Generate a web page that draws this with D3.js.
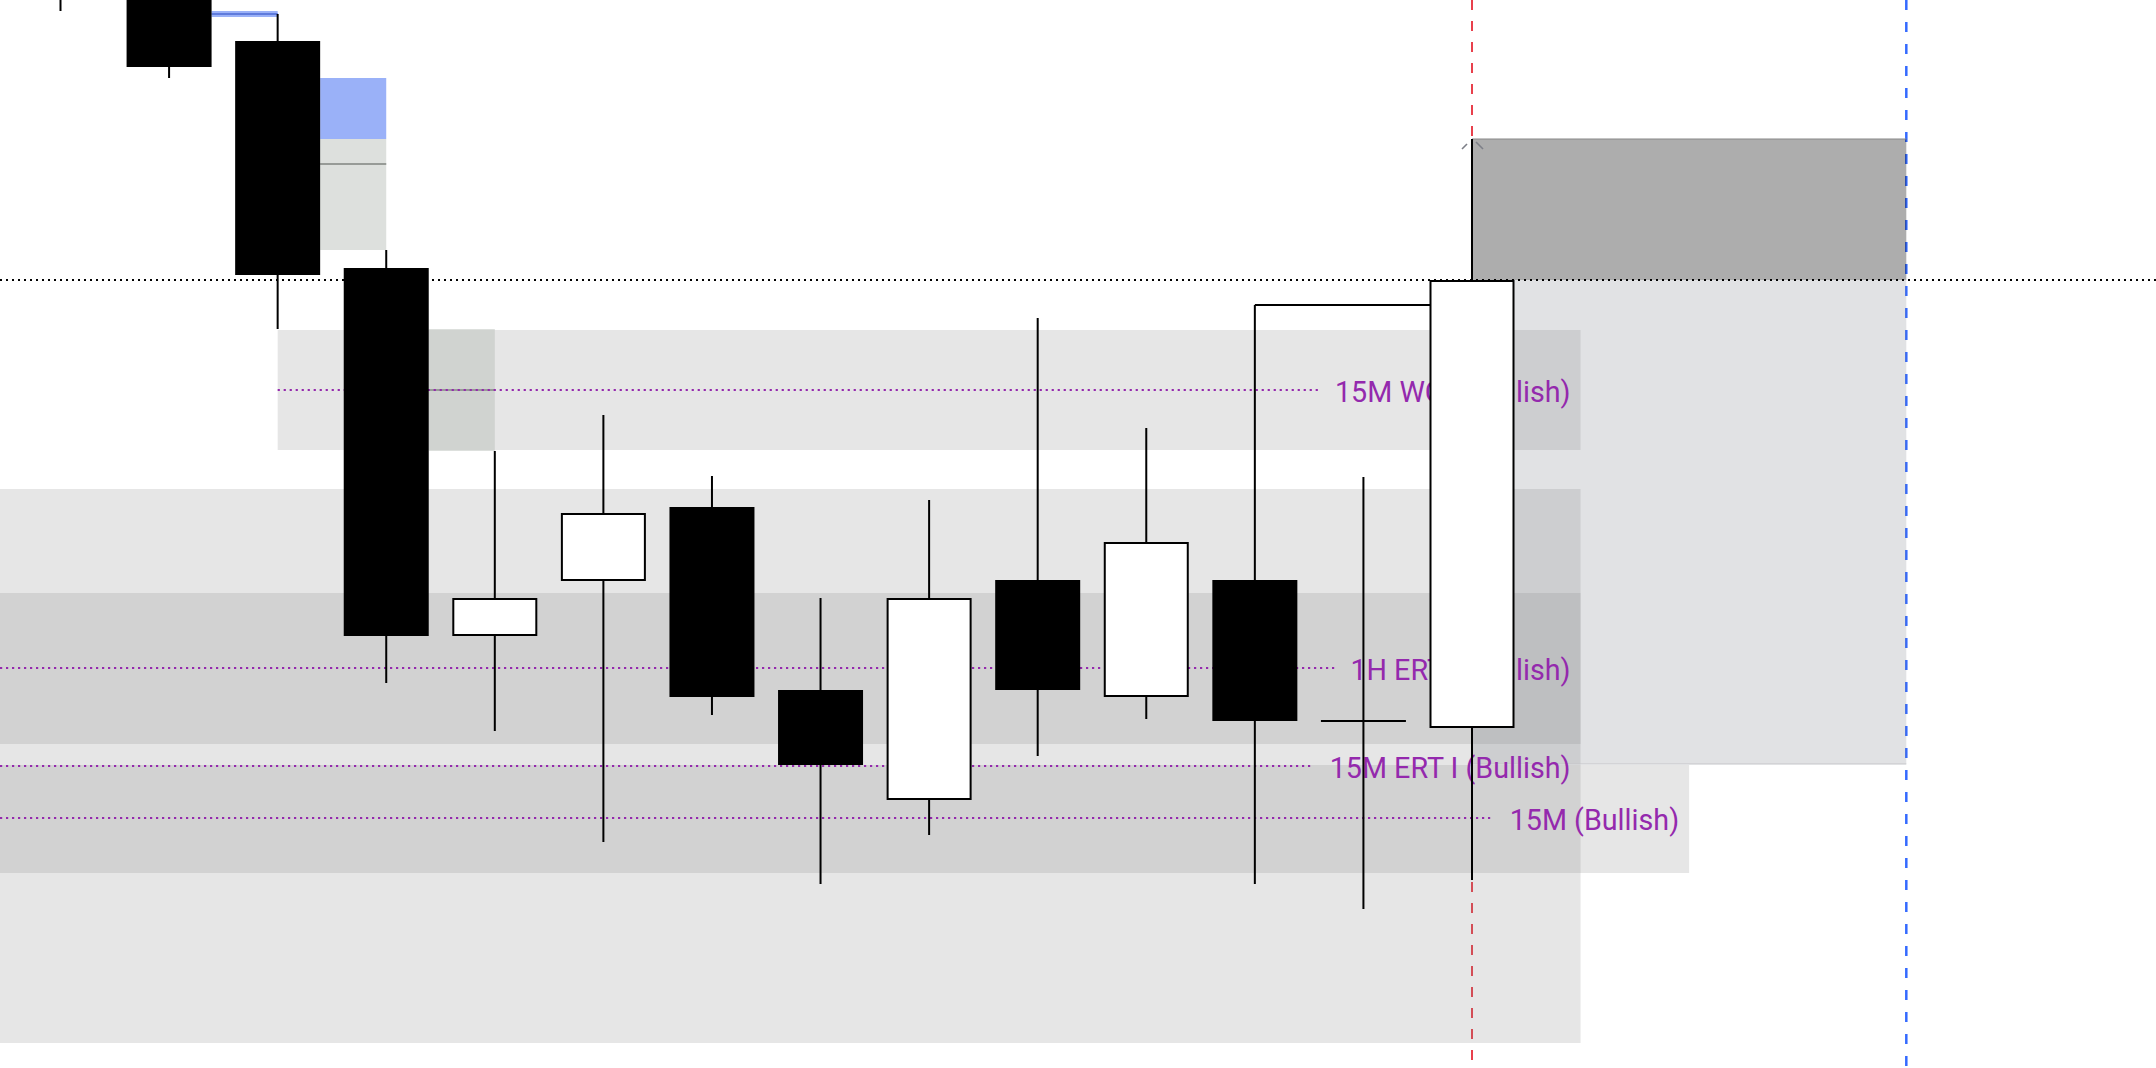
<!DOCTYPE html>
<html>
<head>
<meta charset="utf-8">
<script src="https://cdn.jsdelivr.net/npm/d3@7"></script>
<style>
html,body{margin:0;padding:0;background:#fff;overflow:hidden}
svg{display:block}
</style>
</head>
<body>
<svg id="chart" width="2156" height="1068"></svg>
<script>
// ---------- DATA ----------
const candleIndex = [0,1,2,3,4,5,6,7,8,9,10,11,12,13];
const opens  = [2466.0, 2463.5, 2455.9, 2433.2, 2396.5, 2402.0, 2409.3, 2391.0, 2380.1, 2402.0, 2390.4, 2402.0, 2387.9, 2387.3];
const highs  = [2467.5, 2465.0, 2458.6, 2435.0, 2414.9, 2418.5, 2412.4, 2400.2, 2410.0, 2428.2, 2417.2, 2429.5, 2412.3, 2446.1];
const lows   = [2458.9, 2452.2, 2427.1, 2391.7, 2386.9, 2375.8, 2388.5, 2371.6, 2376.5, 2384.4, 2388.1, 2371.6, 2369.1, 2372.0];
const closes = [2462.5, 2453.3, 2432.5, 2396.4, 2400.1, 2408.6, 2390.3, 2383.5, 2400.1, 2391.0, 2405.7, 2387.9, 2387.9, 2431.9];

// Zones (drawn first to last)
const zoneLabels  = ["15M WC I (Bullish)", "15M ERT I (Bullish)", "1H ERT I (Bullish)", "15M (Bullish)"];
const zoneTops    = [2427.0, 2411.1, 2400.7, 2383.5];
const zoneBottoms = [2415.0, 2355.7, 2385.6, 2372.7];
const zoneMids    = [2421.0, 2383.4, 2393.2, 2378.2];
const zoneStarts  = [2, -1, -1, -1];
const zoneEnds    = [14, 14, 14, 15];

// Small imbalance boxes (start at right edge of body of startIdx, end at endIdx centre)
const boxStartIdx = [1, 2, 2, 3];
const boxEndIdx   = [2, 3, 3, 4];
const boxTops     = [2458.9, 2452.2, 2446.1, 2427.1];
const boxBottoms  = [2458.3, 2446.1, 2435.0, 2414.9];
const boxMids     = [2458.6, null, 2443.6, 2421.0];
const boxKinds    = ["blue", "blue", "green", "green"];

// Projection boxes
const projStart = 13, projEnd = 17;
const projTop = 2446.1, projMid = 2432.0, projBottom = 2383.6;

const levelPrice = 2432.0;          // black dotted level
const redLineIdx = 13, blueLineIdx = 17;
const stepFromIdx = 11, stepToIdx = 13, stepPrice = 2429.5;

// ---------- SCALES ----------
const W = 2156, H = 1068;
const svg = d3.select("#chart");
const x = d3.scaleLinear().domain([0, 13]).range([60.5, 1472]);
const y = d3.scaleLinear().domain([2460, 2353.2]).range([0, H]);
const bodyHalf = 42.5;

svg.append("rect").attr("width", W).attr("height", H).attr("fill", "#fff");

// vertical dashed lines
svg.append("line").attr("x1", x(redLineIdx)).attr("x2", x(redLineIdx)).attr("y1", 0).attr("y2", H)
  .attr("stroke", "#e8404c").attr("stroke-width", 2).attr("stroke-dasharray", "10,11");
svg.append("line").attr("x1", x(blueLineIdx)).attr("x2", x(blueLineIdx)).attr("y1", 0).attr("y2", H)
  .attr("stroke", "#2962ff").attr("stroke-width", 2.5).attr("stroke-dasharray", "10,12").attr("stroke-opacity", 0.95);

// zones
const zg = svg.append("g");
zoneLabels.forEach((lab, i) => {
  const x0 = Math.max(0, x(zoneStarts[i])), x1 = x(zoneEnds[i]);
  zg.append("rect").attr("x", x0).attr("y", y(zoneTops[i]))
    .attr("width", x1 - x0).attr("height", y(zoneBottoms[i]) - y(zoneTops[i]))
    .attr("fill", "rgb(128,128,128)").attr("fill-opacity", 0.2);
});

// projection boxes
svg.append("rect").attr("x", x(projStart)).attr("y", y(projMid))
  .attr("width", x(projEnd) - x(projStart)).attr("height", y(projBottom) - y(projMid))
  .attr("fill", "rgb(120,123,134)").attr("fill-opacity", 0.22);
svg.append("line").attr("x1", x(projStart)).attr("x2", x(projEnd)).attr("y1", y(projBottom)).attr("y2", y(projBottom))
  .attr("stroke", "#c4c5c9").attr("stroke-width", 1);
svg.append("rect").attr("x", x(projStart)).attr("y", y(projTop))
  .attr("width", x(projEnd) - x(projStart)).attr("height", y(projMid) - y(projTop))
  .attr("fill", "#000").attr("fill-opacity", 0.32);
svg.append("line").attr("x1", x(projStart)).attr("x2", x(projEnd)).attr("y1", y(projTop)).attr("y2", y(projTop))
  .attr("stroke", "#888").attr("stroke-width", 1.2);

// imbalance boxes
boxStartIdx.forEach((s, i) => {
  const x0 = x(s) + bodyHalf, x1 = x(boxEndIdx[i]);
  const blue = boxKinds[i] === "blue";
  svg.append("rect").attr("x", x0).attr("y", y(boxTops[i]))
    .attr("width", x1 - x0).attr("height", y(boxBottoms[i]) - y(boxTops[i]))
    .attr("fill", blue ? "#9ab1f8" : "#b8beb8").attr("fill-opacity", blue ? 1 : 0.48);
  if (boxMids[i] !== null) {
    svg.append("line").attr("x1", x0).attr("x2", x1).attr("y1", y(boxMids[i])).attr("y2", y(boxMids[i]))
      .attr("stroke", blue ? "#5f7bdc" : "#979b97").attr("stroke-width", 2);
  }
});

// black dotted level
svg.append("line").attr("x1", 0).attr("x2", W).attr("y1", y(levelPrice)).attr("y2", y(levelPrice))
  .attr("stroke", "#000").attr("stroke-width", 2).attr("stroke-dasharray", "2,4");

// zone labels + purple dotted mid lines
const purple = "#9429ad";
zoneLabels.forEach((lab, i) => {
  const x0 = Math.max(0, x(zoneStarts[i])), x1 = x(zoneEnds[i]);
  const ym = y(zoneMids[i]);
  const t = svg.append("text").attr("x", x1 - 10).attr("y", ym).attr("dy", "0.43em")
    .attr("text-anchor", "end").attr("font-family", "Roboto, 'Noto Sans', sans-serif")
    .attr("font-size", 28.7).attr("fill", purple).text(lab);
  const tw = t.node().getComputedTextLength();
  svg.insert("line", "text").attr("x1", x0).attr("x2", x1 - 10 - tw - 16).attr("y1", ym).attr("y2", ym)
    .attr("stroke", purple).attr("stroke-width", 2.2).attr("stroke-dasharray", "2.2,3.8");
});

// step line from candle 11 high to candle 13
svg.append("line").attr("x1", x(stepFromIdx)).attr("x2", x(stepToIdx)).attr("y1", y(stepPrice)).attr("y2", y(stepPrice))
  .attr("stroke", "#000").attr("stroke-width", 2);

// small marker ticks at candle 13 high
const hy = y(highs[13]), hx = x(13);
svg.append("line").attr("x1", hx - 10).attr("y1", hy + 10).attr("x2", hx - 5).attr("y2", hy + 5)
  .attr("stroke", "#7d7f88").attr("stroke-width", 1.6);
svg.append("line").attr("x1", hx + 4).attr("y1", hy + 3).attr("x2", hx + 11).attr("y2", hy + 10)
  .attr("stroke", "#7d7f88").attr("stroke-width", 1.6);

// candles
const cg = svg.append("g");
candleIndex.forEach(i => {
  const cx = x(i);
  const up = closes[i] >= opens[i];
  cg.append("line").attr("x1", cx).attr("x2", cx).attr("y1", y(highs[i])).attr("y2", y(lows[i]))
    .attr("stroke", "#000").attr("stroke-width", 2);
  const top = y(Math.max(opens[i], closes[i])), bot = y(Math.min(opens[i], closes[i]));
  if (bot - top < 0.5) {
    cg.append("line").attr("x1", cx - bodyHalf).attr("x2", cx + bodyHalf).attr("y1", top).attr("y2", top)
      .attr("stroke", "#000").attr("stroke-width", 2);
  } else if (up) {
    cg.append("rect").attr("x", cx - bodyHalf + 1).attr("y", top).attr("width", 2 * bodyHalf - 2).attr("height", bot - top)
      .attr("fill", "#fff").attr("stroke", "#000").attr("stroke-width", 2);
  } else {
    cg.append("rect").attr("x", cx - bodyHalf).attr("y", top).attr("width", 2 * bodyHalf).attr("height", bot - top)
      .attr("fill", "#000");
  }
});
</script>
</body>
</html>
